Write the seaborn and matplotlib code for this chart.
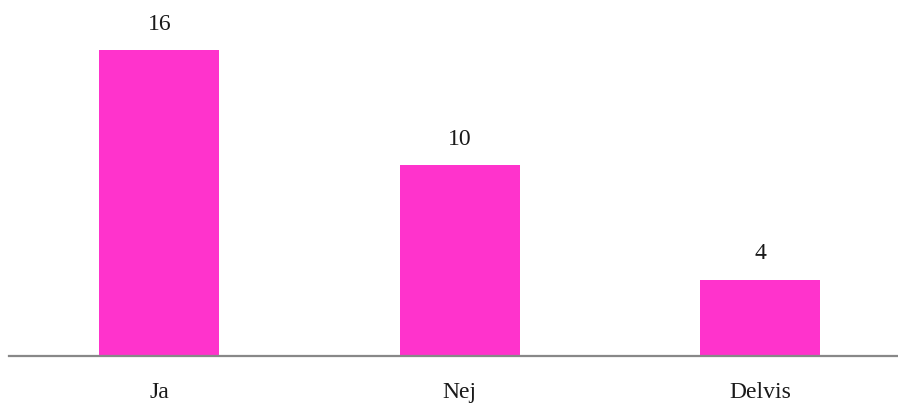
import matplotlib
matplotlib.use("Agg")
import matplotlib.pyplot as plt
import seaborn as sns
import pandas as pd

categories = ["Ja", "Nej", "Delvis"]
values = [16, 10, 4]

sns.set_theme(style="white")
plt.rcParams['font.family'] = ['Liberation Serif', 'DejaVu Serif']

W, H = 898, 408
fig = plt.figure(figsize=(W / 100, H / 100), dpi=100)
ax = fig.add_axes([9 / W, (H - 356) / H, (898 - 9) / W, 356 / H])

df = pd.DataFrame({"cat": categories, "val": values})
sns.barplot(data=df, x="cat", y="val", color="#FF33CC", saturation=1,
            width=0.4, ax=ax, edgecolor="none")

ax.set_xlim(-0.5, (898 - 9) / 300.5 - 0.5)
ax.set_ylim(0, 356 / 19.1)

for i, v in enumerate(values):
    ax.annotate(str(v), (i, v), xytext=(0, 14.5), textcoords="offset points",
                ha="center", va="baseline", fontsize=17, color="#1a1a1a")

ax.set_xlabel("")
ax.set_ylabel("")
ax.set_yticks([])
ax.tick_params(axis="x", length=0, pad=18.5, labelsize=17, labelcolor="#1a1a1a")
for s in ["top", "right", "left"]:
    ax.spines[s].set_visible(False)
ax.spines["bottom"].set_color("#888888")
ax.spines["bottom"].set_linewidth(1.6)

fig.savefig("out.png", dpi=100)
